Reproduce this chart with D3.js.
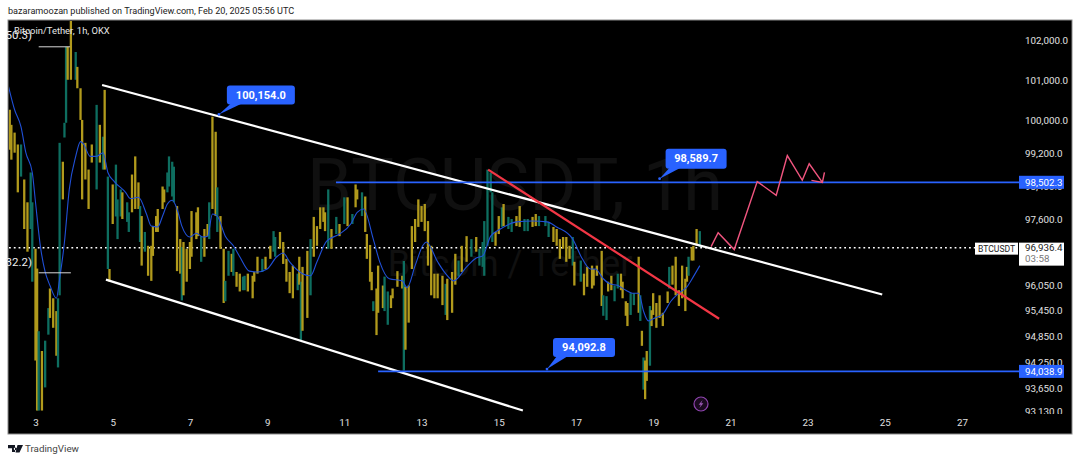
<!DOCTYPE html>
<html><head><meta charset="utf-8">
<script src="https://cdn.jsdelivr.net/npm/d3@7"></script>
<style>html,body{margin:0;padding:0;background:#fff;overflow:hidden}svg{display:block}text{font-family:Roboto,sans-serif}</style>
</head><body><svg id="c" width="1080" height="461"></svg>
<script>
// ---- data (hours since Feb 3 00:00, prices in USDT) ----
const candleHour=[-16,-15,-13,-11,-9,-7,-5,-3,-2,0,1,2,4,6,8,9,11,13,14,15,17,18,19,20,22,25,26,28,29,31,33,35,38,40,42,43,45,46,48,50,51,53,54,57,58,60,62,64,65,66,68,70,72,73,75,76,79,80,82,83,85,86,88,90,91,92,94,96,97,100,101,103,105,107,108,110,112,113,115,117,118,120,122,123,125,127,129,130,132,135,136,138,141,143,146,148,149,152,154,156,158,160,163,164,165,166,169,171,173,175,177,179,180,182,184,187,189,192,194,197,199,200,203,205,206,208,209,210,212,213,216,217,219,221,222,225,228,229,230,232,234,236,238,240,242,244,246,248,250,253,255,256,259,261,263,265,268,271,274,276,278,279,281,283,284,286,288,290,291,294,296,299,301,304,306,309,311,313,317,319,322,324,326,328,330,332,334,335,339,341,343,346,347,349,352,353,355,356,358,360,362,364,365,367,368,370,372,375,376,377,378,379,380,382,383,384,386,388,390,393,394,396,398,400,402,404,405,406,408,409,411,413];
const candleHigh=[100270,99900,99710,99420,99420,98570,98020,98740,98020,96910,96440,94970,94510,94750,95510,95970,95740,95440,95740,99460,99000,99950,101830,101830,102500,101700,101330,100800,100020,99460,98810,99420,100390,99900,99610,100760,98640,96430,98450,98930,98090,98330,98260,98020,97780,98690,99130,98500,97930,97690,97310,96980,96980,97450,97690,97860,98400,98330,98740,99130,99000,98880,97930,97140,96950,97070,96910,97070,97810,97780,97900,97210,97380,97500,98020,100100,99730,98380,97690,96910,96150,96860,96790,96910,96360,96320,96250,96270,96320,96270,96360,96720,96670,96720,96980,97330,97190,97310,97070,96670,96360,96510,96320,96720,96130,96480,96860,97140,97670,97450,97900,97900,97780,98330,97380,97670,97500,98140,98140,97740,98450,98330,98260,98160,97260,97000,96360,95670,95970,96510,96040,96250,95900,95810,95970,96380,96270,96620,96010,96040,97450,97620,98090,97930,97980,97570,96980,96320,96320,96270,96080,96200,96360,96790,96630,96980,97210,97140,97190,96910,97070,97570,98810,98740,98260,97310,97690,97900,97980,97670,97620,97690,97930,97620,97620,97670,97740,97690,97690,97550,97430,97380,97140,97190,97190,96980,97190,96600,96630,96320,96480,96510,96430,96510,96860,95810,95790,96130,96270,96040,96320,96320,96130,95670,95630,95860,95860,96720,95810,94980,94360,94290,94510,95560,95460,95860,95630,95810,95400,95900,96480,96510,96720,95930,96510,96200,96480,96720,96950,96980,97380,97330];
const candleLow=[99290,99050,99220,98260,98640,97380,96840,97380,96130,94290,93140,93140,93140,93670,94890,95280,95050,94400,94130,95810,98090,99590,99950,101010,101010,101010,100800,100020,98090,98570,97860,98980,98330,98980,98810,98810,96430,96130,97500,97680,97140,97680,97620,97550,97310,97780,97860,97860,97070,96510,96840,96270,96150,96740,97310,97310,97860,98020,98260,98400,98160,98020,96380,96320,95690,95810,96130,96430,96720,97140,97210,96600,96720,97210,97140,97860,97690,97310,96910,95630,95670,96270,96360,96270,96010,95900,95930,95930,95900,95740,96130,96320,96360,96430,96670,96840,96720,96910,96550,96130,95860,95740,95930,96060,94760,94980,95280,95810,96720,96980,97380,97550,97330,96910,96910,97260,97210,97500,97450,97500,97900,98090,97690,97310,96670,96130,95930,95440,94880,95400,95510,95440,95120,95510,95740,96010,95970,94060,94540,95170,96430,97070,97430,97550,97330,96510,95810,95740,95740,95580,95350,95230,95400,96060,96250,96360,96600,96720,96840,96510,96480,96270,96980,98260,97070,96980,97260,97430,97450,97380,97310,97450,97430,97330,97330,97430,97450,97450,97450,97190,97070,96980,96670,96910,96600,96670,96510,96040,96130,95810,96010,95970,96040,96270,95560,95330,95230,95900,95930,95670,95970,95930,95740,95330,95090,95350,95580,95400,95210,94630,93620,93400,93820,94170,95090,95350,95050,95280,95090,95630,95970,96060,95810,95560,95740,95440,96130,96270,96630,96630,96980,96950];
const candleDir=["ggggtggttggtgttgggtt","gttggtggggggtgtgtggt","ttgttgggtgtgggggggtt","ttggtggggggtggtggtgg","ttgtggttggggtggttggg","ggtgtggtgggggtgtgtgt","ggtggggtgggttggggtgg","ggggggggggtgggtggtgt","tttttggtgttggttggttt","ggggggtgtggggggttggt","tggggttgtgtggtgggggg","tggggggtgggtgttgggggt","ggggtgggtgtggggggtgtg"].join("").split("");
const maHour=[-17,-13,-9,-6,-2,0,3,6,9,13,15,18,21,25,28,30,34,38,42,45,49,56,59,64,69,72,76,79,82,85,88,91,96,100,104,107,110,113,118,123,127,133,138,144,150,154,158,166,171,175,181,189,196,200,204,210,214,220,228,231,236,241,243,250,255,260,268,274,278,283,289,299,309,318,324,334,339,345,348,353,357,362,367,371,375,378,381,385,390,395,400,405,409,413];
const maPrice=[100880,100270,99850,99220,98740,98020,96980,96360,96040,95740,96200,97070,98330,99130,99490,99420,99130,99130,99220,98740,98520,98260,98110,98140,97740,97450,97430,97690,97980,98070,97860,97450,97190,97280,97190,97210,97740,97690,97210,96980,96720,96380,96360,96430,96720,96810,96600,96320,96270,96600,97090,97260,97500,97780,97860,97140,96600,96200,96150,95990,96510,97000,97070,96600,96320,96150,96480,96690,96740,97210,97380,97550,97570,97550,97430,97140,96740,96430,96430,96200,96080,96040,95930,95860,95860,95440,95210,95280,95370,95670,95860,96010,96250,96510];
const dayTicks=[3,5,7,9,11,13,15,17,19,21,23,25,27];
const priceTicks=[102000,101000,100000,99200,98400,97600,96050,95450,94850,94250,93650,93130];
const upperChannel=[[41.4,100880],[526.4,95830]];
const lowerChannel=[[43.8,96180],[303,93140]];
const redLine=[[281.4,98810],[425,95260]];
const levels=[{price:98502.3,from:186.8},{price:94038.9,from:213}];
const levelEnd=612;
const forecastHour=[420,424.4,434.4,448.7,460.5,467.4,476.7,481,489.2];
const forecastPrice=[96960,97290,96890,98520,98190,99150,98550,98950,98500];
const arrowHour=[482.4,489.2,490.5];
const arrowPrice=[98550,98500,98740];
const whiteMarks=[{price:101830,from:2,to:21.5},{price:96340,from:2,to:22}];
const callouts=[{text:"100,154.0",hour:114,price:100154,dx:8,dy:-29,w:68,h:19},
 {text:"98,589.7",hour:388,price:98589.7,dx:6,dy:-30,w:61,h:20},
 {text:"94,092.8",hour:318,price:94092.8,dx:6,dy:-31,w:62,h:19}];
const lastPrice=96936.4;

const GOLD="#b19a1c",TEAL="#0e6e60",BLUE="#2962ff";
const svg=d3.select("#c");
const x=d3.scaleLinear().domain([0,576]).range([35.5,962]);
const y=d3.scaleLog().domain([102000,93130]).range([40,411]);
const fmt=d3.format(",.1f");

svg.append("rect").attr("x",8).attr("y",20).attr("width",1064).attr("height",414).attr("fill","#000").attr("stroke","#8a8a8a");
const defs=svg.append("defs");
defs.append("clipPath").attr("id","pane").append("rect").attr("x",9).attr("y",21).attr("width",1062).attr("height",393);

// header
svg.append("text").attr("x",8).attr("y",14).attr("font-size",9.1).attr("fill","#222").text("bazaramoozan published on TradingView.com, Feb 20, 2025 05:56 UTC");

// watermark
svg.append("text").attr("x",515).attr("y",210).attr("text-anchor","middle").attr("font-size",72).attr("fill","#101010").text("BTCUSDT, 1h");
svg.append("text").attr("x",510).attr("y",276).attr("text-anchor","middle").attr("font-size",36).attr("fill","#101010").text("Bitcoin / Tether");

const pane=svg.append("g").attr("clip-path","url(#pane)");
// dotted last price line
pane.append("line").attr("x1",9).attr("x2",975).attr("y1",y(lastPrice)).attr("y2",y(lastPrice)).attr("stroke","#fff").attr("stroke-width",1.5).attr("stroke-dasharray","1.8 3");

// candles
pane.append("g").selectAll("line").data(candleHour).join("line")
 .attr("x1",d=>x(d)).attr("x2",d=>x(d))
 .attr("y1",(d,i)=>y(candleHigh[i])).attr("y2",(d,i)=>y(candleLow[i]))
 .attr("stroke",(d,i)=>candleDir[i]==="t"?TEAL:GOLD).attr("stroke-width",2.3);

// moving average
pane.append("path").datum(maHour).attr("fill","none").attr("stroke","#2050d8").attr("stroke-width",1.1)
 .attr("d",d3.line().x(d=>x(d)).y((d,i)=>y(maPrice[i])).curve(d3.curveMonotoneX));

// white marks beside edge labels
whiteMarks.forEach(m=>pane.append("line").attr("x1",x(m.from)).attr("x2",x(m.to)).attr("y1",y(m.price)).attr("y2",y(m.price)).attr("stroke","#d8d8d8").attr("stroke-width",1));

const lineGen=d3.line().x(d=>x(d[0])).y(d=>y(d[1]));
[upperChannel,lowerChannel].forEach(l=>pane.append("path").attr("d",lineGen(l)).attr("stroke","#fff").attr("stroke-width",2.2).attr("fill","none"));
levels.forEach(l=>pane.append("line").attr("x1",x(l.from)).attr("x2",x(levelEnd)).attr("y1",y(l.price)).attr("y2",y(l.price)).attr("stroke",BLUE).attr("stroke-width",1.8));
pane.append("path").attr("d",lineGen(redLine)).attr("stroke","#f23645").attr("stroke-width",2.2).attr("fill","none");

// forecast path
pane.append("path").attr("d",lineGen(forecastHour.map((h,i)=>[h,forecastPrice[i]]))).attr("fill","none").attr("stroke","#f0557f").attr("stroke-width",1.4);
pane.append("path").attr("d",lineGen(arrowHour.map((h,i)=>[h,arrowPrice[i]]))).attr("fill","none").attr("stroke","#f0557f").attr("stroke-width",1.4);

// callouts
callouts.forEach(c=>{
  const ax=x(c.hour),ay=y(c.price),bx=ax+c.dx,by=ay+c.dy;
  const g=svg.append("g");
  g.append("path").attr("d",`M${ax},${ay}L${bx+4},${by+c.h-1}L${bx+15},${by+c.h-1}Z`).attr("fill",BLUE);
  g.append("circle").attr("cx",ax).attr("cy",ay).attr("r",1.4).attr("fill",BLUE);
  g.append("rect").attr("x",bx).attr("y",by).attr("width",c.w).attr("height",c.h).attr("rx",3).attr("fill",BLUE);
  g.append("text").attr("x",bx+c.w/2).attr("y",by+c.h/2+3.8).attr("text-anchor","middle").attr("font-size",11).attr("font-weight",700).attr("fill","#fff").text(c.text);
});

// labels at pane edge
svg.append("text").attr("x",32).attr("y",39).attr("text-anchor","end").attr("font-size",11.5).attr("fill","#eee").text("50.3)");
svg.append("text").attr("x",32).attr("y",266).attr("text-anchor","end").attr("font-size",11.5).attr("fill","#eee").text("32.2)");
svg.append("text").attr("x",14).attr("y",34).attr("font-size",9.4).attr("fill","#e6e6e6").text("Bitcoin/Tether, 1h, OKX");

// time axis
const ax=svg.append("g").attr("transform","translate(0,414)")
 .call(d3.axisBottom(x).tickValues(dayTicks.map(d=>(d-3)*24)).tickFormat(h=>String(h/24+3)).tickSize(0).tickPadding(5));
ax.select(".domain").remove();
ax.selectAll("text").attr("font-size",9.8).attr("font-family","Roboto,sans-serif").attr("fill","#e0e0e0");

// price axis
const pw=svg.append("g").attr("clip-path","url(#pane)");
const pa=pw.append("g").attr("transform","translate(1020,0)")
 .call(d3.axisRight(y).tickValues(priceTicks).tickFormat(fmt).tickSize(0).tickPadding(5));
pa.select(".domain").remove();
pa.selectAll("text").attr("font-size",9.8).attr("font-family","Roboto,sans-serif").attr("fill","#e0e0e0");

// price tags
levels.forEach(l=>{
  svg.append("rect").attr("x",1019).attr("y",y(l.price)-6.5).attr("width",45).attr("height",13).attr("fill",BLUE);
  svg.append("text").attr("x",1025).attr("y",y(l.price)+3.5).attr("font-size",9.8).attr("fill","#fff").text(fmt(l.price));
});
const ly=y(lastPrice);
svg.append("rect").attr("x",1019).attr("y",ly-5).attr("width",45).attr("height",23).attr("fill","#fff");
svg.append("text").attr("x",1025).attr("y",ly+3.5).attr("font-size",9.8).attr("fill","#222").text(fmt(lastPrice));
svg.append("text").attr("x",1025).attr("y",ly+14.5).attr("font-size",9.8).attr("fill","#777").text("03:58");
svg.append("rect").attr("x",975).attr("y",ly-5).attr("width",43).attr("height",12).attr("fill","#fff");
svg.append("text").attr("x",978).attr("y",ly+4.3).attr("font-size",8.6).attr("fill","#222").text("BTCUSDT");

// lightning icon
const z=svg.append("g").attr("transform","translate(701,404)");
z.append("circle").attr("r",7).attr("fill","#1a0a1f").attr("stroke","#8e44ad").attr("stroke-width",1.2);
z.append("path").attr("d","M1.6,-4L-2.4,0.8H-0.2L-1.6,4L2.4,-0.8H0.2Z").attr("fill","#9b59b6");

// logo
const lg=svg.append("g").attr("transform","translate(8,445)");
lg.append("path").attr("d","M0,0H7V7H4V3.2H0ZM9.5,0H15L11.5,7.5H7.5Z M7.2,2.4a1.4,1.4 0 1 0 0.01,0Z").attr("fill","#131722");
svg.append("text").attr("x",25).attr("y",452).attr("font-size",9.8).attr("fill","#444").text("TradingView");
</script></body></html>
